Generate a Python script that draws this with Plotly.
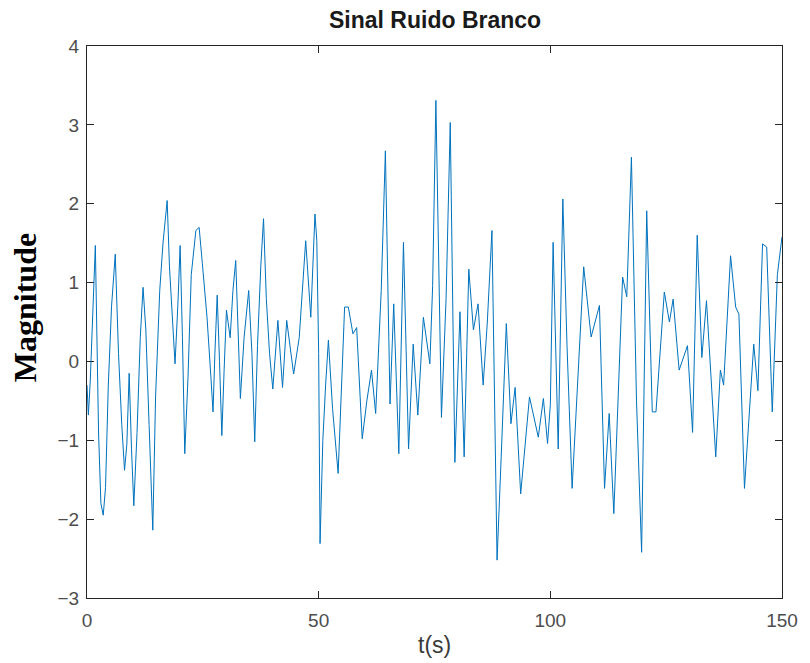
import plotly.graph_objects as go

# Vertices of the white-noise signal (time in s, magnitude)
t = [0, 0.3, 0.7, 1.2, 1.8, 2.5, 3.0, 3.5, 4.0, 4.6, 5.3, 6.1, 6.8, 7.5, 8.1, 8.6, 9.1, 9.6, 10.1,
     10.8, 11.5, 12.1, 12.7, 13.4, 14.2, 14.8, 15.7, 16.4, 17.3, 17.8, 18.5, 19.0, 19.6, 20.1, 20.6,
     21.1, 21.8, 22.5, 23.5, 24.2, 24.9, 25.9, 26.7, 27.2, 27.6, 28.1, 28.6, 29.1, 29.6, 30.1,
     30.9, 31.5, 32.1, 32.6, 33.1, 33.9, 34.9, 35.6, 36.2, 36.8, 37.5, 38.1, 38.7, 39.4, 40.1,
     41.2, 42.2, 43.1, 44.6, 45.8, 46.5, 47.2, 48.3, 49.2, 49.6, 50.0, 50.3, 50.9, 51.5, 52.1,
     53.0, 54.2, 55.6, 56.4, 57.4, 58.2, 59.4, 60.4, 61.4, 62.3, 63.5, 64.4, 65.4, 66.2, 67.3,
     68.3, 69.4, 70.4, 71.4, 72.6, 74.0, 74.6, 75.3, 76.5, 77.5, 78.4, 79.4, 80.5, 81.4, 82.4,
     83.4, 84.4, 85.5, 86.4, 87.4, 88.5, 89.4, 90.5, 91.5, 92.4, 93.6, 95.5, 97.4, 98.5, 99.4,
     100.0, 100.6, 101.7, 102.7, 103.6, 104.7, 106.0, 107.2, 108.8, 110.6, 111.7, 112.7, 113.7,
     115.6, 116.5, 117.5, 118.6, 119.7, 120.8, 122.0, 122.8, 124.6, 125.7, 126.5, 127.8, 129.6,
     130.7, 131.7, 132.7, 133.7, 135.7, 136.7, 137.4, 138.9, 140.0, 140.7, 141.9, 143.9, 144.8,
     145.8, 146.7, 147.9, 149.0, 150.0]
magnitude = [-0.30, -0.68, -0.25, 0.60, 1.47, -0.92, -1.80, -1.95, -1.60, -0.30, 0.70, 1.36,
             0.10, -0.80, -1.38, -1.05, -0.15, -1.10, -1.83, -0.90, 0.30, 0.94, 0.40, -0.80,
             -2.14, -0.45, 0.90, 1.50, 2.04, 1.20, 0.40, -0.03, 0.70, 1.47, 0.30, -1.17, -0.20,
             1.10, 1.66, 1.70, 1.24, 0.56, -0.16, -0.64, 0.10, 0.84, 0.00, -0.94, -0.10, 0.65,
             0.30, 0.90, 1.28, 0.40, -0.47, 0.30, 0.90, 0.10, -1.02, 0.20, 1.20, 1.81, 0.80,
             0.10, -0.35, 0.52, -0.33, 0.52, -0.16, 0.30, 0.86, 1.53, 0.56, 1.87, 1.53, 0.10,
             -2.31, -1.00, -0.30, 0.27, -0.60, -1.42, 0.69, 0.69, 0.35, 0.43, -0.98, -0.50,
             -0.11, -0.66, 0.90, 2.67, -0.54, 0.73, -1.17, 1.51, -1.11, 0.22, -0.68, 0.56,
             -0.03, 0.96, 3.31, -0.71, 0.80, 3.03, -1.28, 0.63, -1.21, 1.17, 0.40, 0.73, -0.30,
             0.50, 1.66, -2.52, -1.20, 0.48, -0.79, -0.33, -1.68, -0.45, -0.96, -0.47, -1.04,
             -0.55, 1.51, -1.11, 2.06, 0.20, -1.61, -0.10, 1.20, 0.31, 0.71, -1.61, -0.66,
             -1.93, 1.07, 0.82, 2.59, -0.50, -2.42, 1.91, -0.64, -0.64, 0.88, 0.50, 0.79,
             -0.11, 0.20, -0.90, 1.60, 0.05, 0.77, -1.21, -0.11, -0.30, 1.34, 0.69, 0.60,
             -1.61, 0.22, -0.37, 1.49, 1.45, -0.64, 1.10, 1.58]

x_ticks = [0, 50, 100, 150]
y_ticks = [-3, -2, -1, 0, 1, 2, 3, 4]

fig = go.Figure()
fig.add_trace(go.Scatter(x=t, y=magnitude, mode="lines",
                         line=dict(color="#0072BD", width=1), showlegend=False))

axis_common = dict(showline=True, linecolor="#262626", linewidth=1, mirror="ticks",
                   ticks="inside", ticklen=7, tickcolor="#262626", showgrid=False,
                   zeroline=False, tickfont=dict(family="Liberation Sans, Arial", size=19,
                                                 color="#4d4d4d"))

fig.update_layout(
    width=810, height=663,
    margin=dict(l=87, r=23, t=46, b=65),
    paper_bgcolor="white", plot_bgcolor="white",
    xaxis=dict(range=[0, 150], tickvals=x_ticks, ticklabelstandoff=5, **axis_common),
    yaxis=dict(range=[-3, 4], tickvals=y_ticks, ticklabelstandoff=3, **axis_common),
    annotations=[
        dict(text="<b>Sinal Ruido Branco</b>", xref="paper", yref="paper", x=0.5, y=1,
             yshift=26, showarrow=False, xanchor="center", yanchor="middle",
             font=dict(family="Liberation Sans, Arial", size=23, color="#1a1a1a")),
        dict(text="t(s)", xref="paper", yref="paper", x=0.5, y=0, yshift=-47,
             showarrow=False, xanchor="center", yanchor="middle",
             font=dict(family="Liberation Sans, Arial", size=23, color="#3a3a3a")),
        dict(text="<b>Magnitude</b>", xref="paper", yref="paper", x=0, xshift=-62, y=0.525,
             showarrow=False, textangle=-90, xanchor="center", yanchor="middle",
             font=dict(family="Liberation Serif, Times New Roman", size=32, color="black")),
    ],
)

fig.write_html("out.html")
